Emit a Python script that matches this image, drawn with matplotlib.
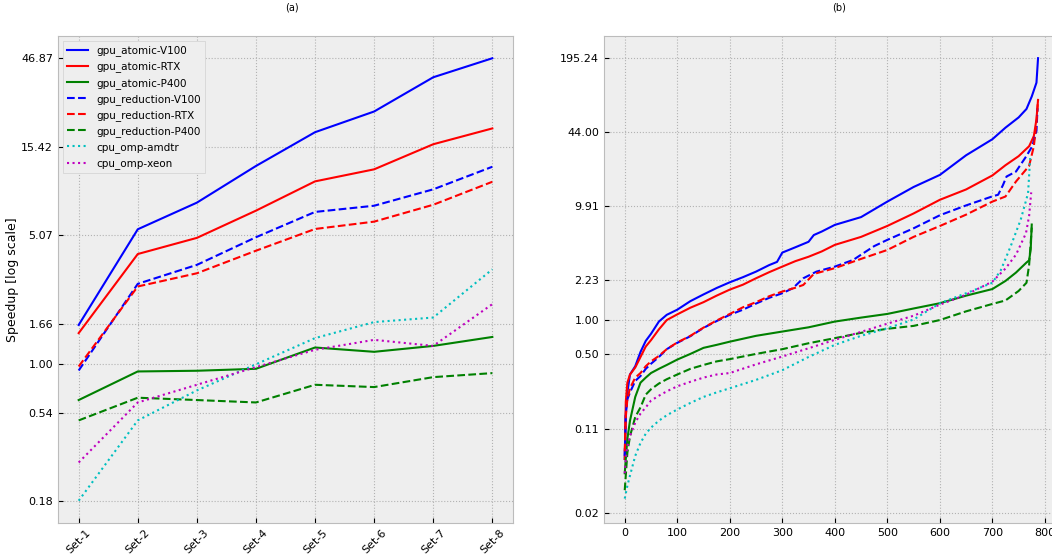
import matplotlib
matplotlib.use('Agg')
import matplotlib.pyplot as plt
from matplotlib.ticker import FixedLocator, NullLocator, FuncFormatter

plt.style.use('bmh')

# ---- (a) speedup per input set ----
sets = ['Set-1', 'Set-2', 'Set-3', 'Set-4', 'Set-5', 'Set-6', 'Set-7', 'Set-8']
atomic_v100 = [1.64, 5.46, 7.63, 12.1, 18.5, 24.0, 36.9, 46.87]
atomic_rtx = [1.48, 4.00, 4.90, 6.90, 9.97, 11.6, 15.9, 19.4]
atomic_p400 = [0.638, 0.914, 0.922, 0.945, 1.235, 1.17, 1.26, 1.41]
reduction_v100 = [0.925, 2.75, 3.49, 4.94, 6.79, 7.34, 9.02, 11.98]
reduction_rtx = [0.973, 2.66, 3.14, 4.17, 5.48, 6.01, 7.43, 9.92]
reduction_p400 = [0.494, 0.657, 0.638, 0.619, 0.773, 0.751, 0.851, 0.895]
omp_amdtr = [0.18, 0.494, 0.72, 1.00, 1.39, 1.70, 1.80, 3.30]
omp_xeon = [0.291, 0.619, 0.773, 0.965, 1.20, 1.36, 1.26, 2.13]
ticks_a = [0.18, 0.54, 1.00, 1.66, 5.07, 15.42, 46.87]

# ---- (b) sorted speedups over all inputs (read at sample points) ----
b_atomic_v100_x = [0, 2, 5, 10, 20, 30, 40, 50, 65, 80, 100, 125, 150, 175, 200, 225, 250, 275, 290,
                   300, 325, 350, 360, 375, 400, 450, 500, 550, 600, 650, 700, 725, 750, 765, 775, 784, 787]
b_atomic_v100 = [0.06, 0.15, 0.23, 0.33, 0.39, 0.52, 0.65, 0.75, 0.96, 1.10, 1.22, 1.45, 1.66, 1.89, 2.12,
                 2.35, 2.63, 3.0, 3.2, 3.86, 4.3, 4.8, 5.5, 5.9, 6.75, 7.9, 10.8, 14.5, 18.5, 27.5, 38,
                 48, 59, 70, 90, 119, 195]

b_atomic_rtx_x = [0, 2, 5, 10, 20, 30, 40, 50, 65, 80, 100, 125, 150, 175, 200, 225, 250, 275, 300,
                  325, 350, 375, 400, 450, 500, 550, 600, 650, 700, 725, 750, 770, 779, 784, 787]
b_atomic_rtx = [0.06, 0.19, 0.28, 0.33, 0.38, 0.47, 0.58, 0.66, 0.82, 0.99, 1.11, 1.27, 1.42, 1.62, 1.83,
                2.02, 2.3, 2.6, 2.91, 3.25, 3.55, 3.95, 4.51, 5.3, 6.61, 8.5, 11.2, 13.8, 18.3, 22.5, 27,
                33, 40.5, 57, 84]

b_atomic_p400_x = [0, 2, 5, 10, 20, 30, 40, 50, 65, 80, 100, 125, 150, 175, 200, 250, 300, 350, 400,
                   450, 500, 550, 600, 650, 700, 725, 745, 765, 770, 773, 775]
b_atomic_p400 = [0.045, 0.06, 0.09, 0.13, 0.21, 0.28, 0.31, 0.34, 0.37, 0.40, 0.446, 0.50, 0.565, 0.60,
                 0.64, 0.72, 0.785, 0.855, 0.96, 1.04, 1.12, 1.25, 1.39, 1.62, 1.85, 2.18, 2.58, 3.16,
                 3.3, 4.1, 6.8]

b_reduction_v100_x = [0, 2, 5, 10, 20, 30, 40, 50, 65, 80, 100, 125, 150, 175, 200, 225, 250, 275, 300,
                      320, 340, 365, 400, 435, 450, 475, 500, 550, 600, 650, 700, 711, 720, 727, 745,
                      764, 776, 784, 786]
b_reduction_v100 = [0.064, 0.15, 0.20, 0.23, 0.29, 0.32, 0.37, 0.41, 0.47, 0.55, 0.625, 0.715, 0.845,
                    0.97, 1.10, 1.22, 1.38, 1.55, 1.70, 1.88, 2.3, 2.63, 2.91, 3.33, 3.7, 4.4, 4.99, 6.3,
                    8.2, 10.0, 12.0, 12.4, 15, 17.9, 19.8, 26.7, 33, 45, 71]

b_reduction_rtx_x = [0, 2, 5, 10, 20, 30, 40, 50, 65, 80, 100, 125, 150, 175, 200, 225, 250, 275, 300,
                     325, 340, 360, 400, 450, 500, 550, 600, 650, 700, 725, 745, 770, 779, 784, 787]
b_reduction_rtx = [0.07, 0.14, 0.2, 0.25, 0.31, 0.34, 0.39, 0.43, 0.48, 0.55, 0.63, 0.72, 0.85, 0.98,
                   1.12, 1.28, 1.42, 1.6, 1.76, 1.9, 2.01, 2.51, 2.82, 3.4, 4.07, 5.3, 6.6, 8.3, 10.8,
                   11.97, 16.2, 22.2, 33, 53, 84]

b_reduction_p400_x = [0, 5, 10, 20, 30, 40, 50, 65, 80, 100, 125, 150, 175, 200, 250, 300, 350, 400,
                      450, 500, 550, 600, 650, 700, 725, 750, 765, 770, 773, 775]
b_reduction_p400 = [0.032, 0.068, 0.095, 0.14, 0.17, 0.22, 0.245, 0.275, 0.30, 0.33, 0.37, 0.40, 0.43,
                    0.45, 0.50, 0.55, 0.62, 0.687, 0.765, 0.83, 0.88, 0.99, 1.18, 1.37, 1.47, 1.78, 2.1,
                    3.0, 4.7, 6.4]

b_omp_amdtr_x = [0, 5, 10, 20, 30, 40, 50, 65, 80, 100, 125, 150, 175, 200, 250, 300, 350, 400, 450,
                 500, 550, 600, 650, 700, 716, 735, 754, 768, 772]
b_omp_amdtr = [0.027, 0.035, 0.043, 0.064, 0.083, 0.10, 0.113, 0.13, 0.145, 0.163, 0.186, 0.21, 0.23,
               0.25, 0.296, 0.36, 0.47, 0.60, 0.72, 0.84, 1.0, 1.39, 1.7, 2.1, 2.7, 4.4, 7.5, 12.8, 26]

b_omp_xeon_x = [0, 2, 5, 10, 20, 30, 40, 50, 65, 80, 100, 125, 150, 175, 200, 250, 300, 350, 400, 450,
                500, 550, 600, 650, 700, 725, 745, 764, 770, 774]
b_omp_xeon = [0.045, 0.06, 0.078, 0.095, 0.125, 0.15, 0.17, 0.195, 0.215, 0.235, 0.26, 0.285, 0.31,
              0.33, 0.34, 0.405, 0.474, 0.56, 0.664, 0.78, 0.92, 1.08, 1.35, 1.65, 2.15, 2.8, 3.7, 5.7,
              8.1, 13]
ticks_b = [0.02, 0.11, 0.50, 1.00, 2.23, 9.91, 44.00, 195.24]

labels = ['gpu_atomic-V100', 'gpu_atomic-RTX', 'gpu_atomic-P400',
          'gpu_reduction-V100', 'gpu_reduction-RTX', 'gpu_reduction-P400',
          'cpu_omp-amdtr', 'cpu_omp-xeon']
styles = ['b-', 'r-', 'g-', 'b--', 'r--', 'g--', 'c:', 'm:']

W, H = 1052, 555
fig = plt.figure(figsize=(W / 100, H / 100), dpi=100)
fig.patch.set_facecolor('white')

ax1 = fig.add_axes([58 / W, (H - 523) / H, (513 - 58) / W, (523 - 36) / H])
ax2 = fig.add_axes([604 / W, (H - 523) / H, (1058 - 604) / W, (523 - 36) / H])

series_a = [atomic_v100, atomic_rtx, atomic_p400, reduction_v100, reduction_rtx,
            reduction_p400, omp_amdtr, omp_xeon]
xs = list(range(len(sets)))
for vals, st, lab in zip(series_a, styles, labels):
    ax1.plot(xs, vals, st, label=lab, linewidth=1.5)

series_b = [(b_atomic_v100_x, b_atomic_v100), (b_atomic_rtx_x, b_atomic_rtx),
            (b_atomic_p400_x, b_atomic_p400), (b_reduction_v100_x, b_reduction_v100),
            (b_reduction_rtx_x, b_reduction_rtx), (b_reduction_p400_x, b_reduction_p400),
            (b_omp_amdtr_x, b_omp_amdtr), (b_omp_xeon_x, b_omp_xeon)]
for (bx, by), st in zip(series_b, styles):
    ax2.plot(bx, by, st, linewidth=1.5)

fmt = FuncFormatter(lambda v, p: '%.2f' % v)
for ax, tk in ((ax1, ticks_a), (ax2, ticks_b)):
    ax.set_yscale('log')
    ax.yaxis.set_major_locator(FixedLocator(tk))
    ax.yaxis.set_minor_locator(NullLocator())
    ax.yaxis.set_major_formatter(fmt)
    ax.tick_params(labelsize=8)
    ax.grid(True, linestyle=':', color='#b2b2b2', linewidth=0.8)

ax1.set_ylim(0.136, 62)
ax1.set_xlim(-0.35, 7.35)
ax1.set_xticks(xs)
ax1.set_xticklabels(sets, rotation=45)
ax1.set_ylabel('Speedup [log scale]', fontsize=9)
ax1.yaxis.set_label_coords(-0.085, 0.5)
ax1.legend(loc='upper left', fontsize=7.5, facecolor='#eeeeee', edgecolor='#d0d0d0',
           fancybox=False, framealpha=1.0)

ax2.set_ylim(0.0165, 305)
ax2.set_xlim(-39.5, 825)
ax2.set_xticks(range(0, 900, 100))

fig.text(292 / W, 1 - 7 / H, '(a)', ha='center', va='center', fontsize=7)
fig.text(839 / W, 1 - 7 / H, '(b)', ha='center', va='center', fontsize=7)

fig.savefig('out.png', dpi=100)
